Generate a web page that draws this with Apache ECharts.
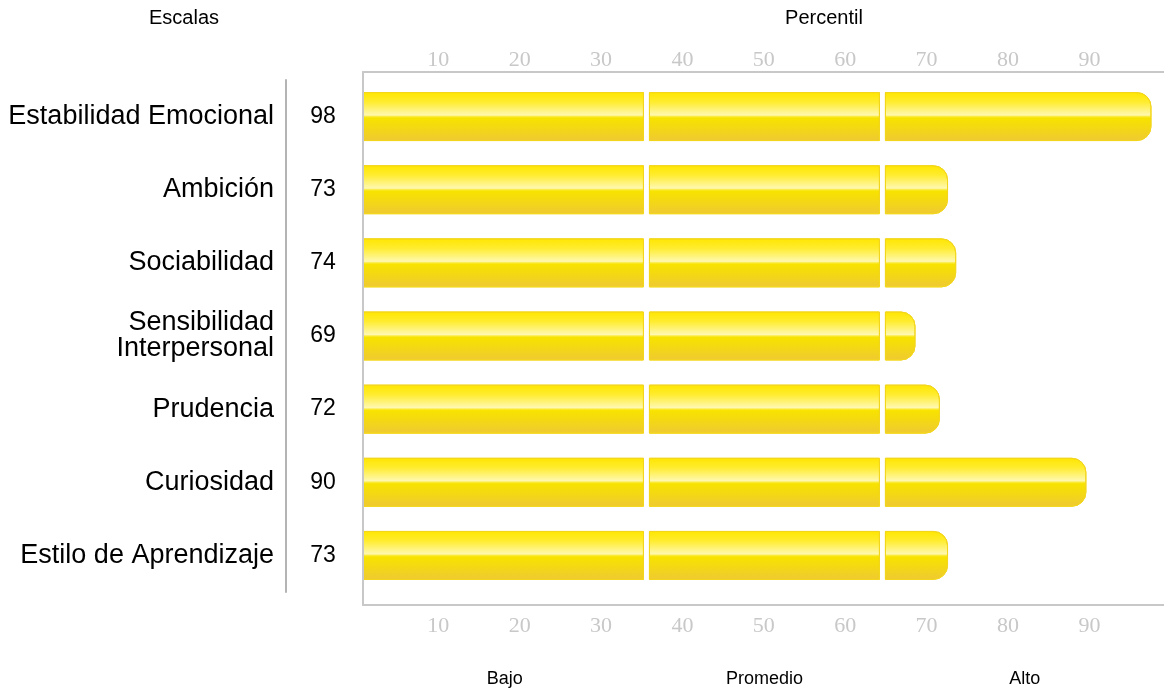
<!DOCTYPE html>
<html>
<head>
<meta charset="utf-8">
<script src="https://cdn.jsdelivr.net/npm/echarts@6/dist/echarts.min.js"></script>
<style>
  html, body { margin: 0; padding: 0; background: #fff; }
  #chart { width: 1164px; height: 692px; }
</style>
</head>
<body>
<div id="chart"></div>
<script>
// Scales and their percentile scores
const scales = [
  'Estabilidad Emocional',
  'Ambición',
  'Sociabilidad',
  'Sensibilidad\nInterpersonal',
  'Prudencia',
  'Curiosidad',
  'Estilo de Aprendizaje'
];
const percentiles = [98, 73, 74, 69, 72, 90, 73];

// Interpretation bands: Bajo | Promedio | Alto, split at these percentiles
const bandNames = ['Bajo', 'Promedio', 'Alto'];
const bandBreaks = [36, 65];

// Percentile axis extent and tick step
const axisMin = 1.17;
const axisMax = 99.6;
const tickStep = 10;

const GAP = 6;          // white gap between band segments, px
const RADIUS = 14;      // rounded end of each bar, px
const BAR_RATIO = 0.656;

const FRAME_COLOR = '#c8c8c8';
const SANS = '"Liberation Sans", Arial, Helvetica, sans-serif';
const SERIF = '"Liberation Serif", "Times New Roman", serif';

const barFill = {
  type: 'linear', x: 0, y: 0, x2: 0, y2: 1,
  colorStops: [
    { offset: 0.00, color: '#FFE600' },
    { offset: 0.20, color: '#FFEC2E' },
    { offset: 0.47, color: '#FFF8B0' },
    { offset: 0.50, color: '#FBEA3A' },
    { offset: 0.53, color: '#F7E300' },
    { offset: 0.70, color: '#F4DA10' },
    { offset: 1.00, color: '#EFC933' }
  ]
};

function renderBar(params, api) {
  const v = api.value(0);
  const i = api.value(1);
  const start = api.coord([axisMin, i]);
  const end = api.coord([v, i]);
  const h = api.size([0, 1])[1] * BAR_RATIO;
  const y = start[1] - h / 2;

  const edges = [start[0]];
  bandBreaks.forEach(function (b) {
    if (b < v) {
      const bx = api.coord([b, i])[0];
      edges.push(bx - GAP / 2, bx + GAP / 2);
    }
  });
  edges.push(end[0]);

  const children = [];
  for (let k = 0; k < edges.length; k += 2) {
    const x0 = edges[k];
    const x1 = edges[k + 1];
    const last = k + 2 >= edges.length;
    children.push({
      type: 'rect',
      shape: { x: x0, y: y, width: x1 - x0, height: h, r: last ? [0, RADIUS, RADIUS, 0] : 0 },
      style: { fill: barFill, stroke: '#F3D61C', lineWidth: 1 }
    });
  }
  return { type: 'group', children: children };
}

const chart = echarts.init(document.getElementById('chart'), null, { renderer: 'canvas' });

const tickLabel = {
  fontFamily: SERIF,
  fontSize: 22,
  color: FRAME_COLOR,
  verticalAlign: 'middle',
  padding: [0, 0, 0, 7],
  showMinLabel: false,
  showMaxLabel: false
};

chart.setOption({
  animation: false,
  backgroundColor: '#fff',
  grid: [
    // frame around the bars, with the percentile ticks
    { left: 363, right: 0, top: 72, bottom: 87, outerBoundsMode: 'none' },
    // bar rows
    { left: 363, right: 0, top: 80, bottom: 100, outerBoundsMode: 'none' }
  ],
  xAxis: [
    {
      gridIndex: 0, type: 'value', position: 'top',
      min: axisMin, max: axisMax, minInterval: tickStep, maxInterval: tickStep,
      axisLine: { show: true, onZero: false, lineStyle: { color: FRAME_COLOR, width: 2 } },
      axisTick: { show: false }, splitLine: { show: false },
      axisLabel: Object.assign({ margin: 11.5 }, tickLabel),
      z: 5
    },
    {
      gridIndex: 0, type: 'value', position: 'bottom',
      min: axisMin, max: axisMax, minInterval: tickStep, maxInterval: tickStep,
      axisLine: { show: true, onZero: false, lineStyle: { color: FRAME_COLOR, width: 2 } },
      axisTick: { show: false }, splitLine: { show: false },
      axisLabel: Object.assign({ margin: 21.5 }, tickLabel),
      z: 5
    },
    {
      gridIndex: 1, type: 'value', min: axisMin, max: axisMax, show: false
    }
  ],
  yAxis: [
    {
      gridIndex: 0, type: 'value', position: 'left', min: 0, max: 1,
      axisLine: { show: true, onZero: false, lineStyle: { color: FRAME_COLOR, width: 2 } },
      axisTick: { show: false }, splitLine: { show: false }, axisLabel: { show: false },
      z: 5
    },
    {
      gridIndex: 1, type: 'category', data: scales, inverse: true,
      position: 'left', offset: 77,
      axisLine: { show: true, onZero: false, lineStyle: { color: '#b4b4b4', width: 2 } },
      axisTick: { show: false }, splitLine: { show: false },
      axisLabel: {
        fontFamily: SANS, fontSize: 27, color: '#000', margin: 12, lineHeight: 26
      }
    },
    {
      gridIndex: 1, type: 'category', data: percentiles.map(String), inverse: true,
      position: 'left', offset: 0,
      axisLine: { show: false }, axisTick: { show: false }, splitLine: { show: false },
      axisLabel: {
        fontFamily: SANS, fontSize: 23, color: '#000', margin: 40, align: 'center'
      }
    }
  ],
  series: [
    {
      type: 'custom',
      xAxisIndex: 2,
      yAxisIndex: 1,
      silent: true,
      z: 2,
      encode: { x: 0, y: 1 },
      data: percentiles.map(function (v, i) { return [v, i]; }),
      renderItem: renderBar
    }
  ]
});

// Headings and band names
const bandEdges = [axisMin].concat(bandBreaks, [100]);
const bandTexts = bandNames.map(function (name, k) {
  const mid = (bandEdges[k] + bandEdges[k + 1]) / 2;
  const px = chart.convertToPixel({ xAxisIndex: 2 }, mid);
  return {
    type: 'text', x: px, y: 679,
    style: { text: name, font: '18px ' + SANS, fill: '#000', align: 'center', verticalAlign: 'middle' }
  };
});

chart.setOption({
  graphic: [
    { type: 'text', x: 184, y: 18, style: { text: 'Escalas', font: '20px ' + SANS, fill: '#000', align: 'center', verticalAlign: 'middle' } },
    { type: 'text', x: 824, y: 18, style: { text: 'Percentil', font: '20px ' + SANS, fill: '#000', align: 'center', verticalAlign: 'middle' } }
  ].concat(bandTexts)
});
</script>
</body>
</html>
